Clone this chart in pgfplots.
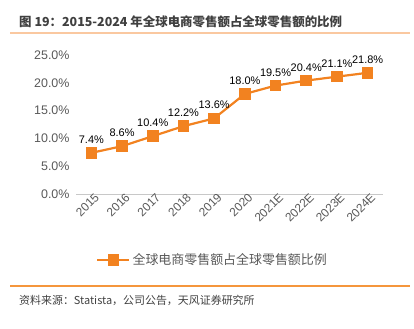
\documentclass[border=0pt]{standalone}
\usepackage{pgfplots}
\pgfplotsset{compat=1.18}
\usepackage{fontspec}
\setmainfont{Liberation Sans}
\newfontfamily\cjk{Noto Sans CJK SC}
\definecolor{lineorange}{RGB}{242,130,32}
\definecolor{ticgray}{RGB}{89,89,89}
\definecolor{titlegray}{RGB}{64,64,64}
\definecolor{titleline}{RGB}{250,200,160}
\definecolor{bottomline}{RGB}{245,150,60}
\definecolor{zerogray}{RGB}{200,200,200}
\begin{document}
\begin{tikzpicture}
\useasboundingbox (0bp,0bp) rectangle (414bp,329bp);
\node[anchor=west, font=\cjk\bfseries\fontsize{12.5}{14}\selectfont, text=titlegray, inner sep=0pt] at (19bp,307.3bp) {图 19：2015-2024 年全球电商零售额占全球零售额的比例};
\draw[titleline, line width=1.2bp] (10bp,296bp) -- (410bp,296bp);
\draw[bottomline, line width=1.2bp] (10bp,43bp) -- (410bp,43bp);
\node[anchor=west, font=\cjk\fontsize{11}{13}\selectfont, text=titlegray, inner sep=0pt] at (19bp,29bp) {资料来源：Statista，公司公告，天风证券研究所};
\begin{axis}[
  at={(76bp,135bp)}, anchor=south west,
  scale only axis, width=307bp, height=139bp,
  xmin=-0.5, xmax=9.5, ymin=0, ymax=25,
  xtick={0,...,9},
  xticklabels={2015,2016,2017,2018,2019,2020,2021E,2022E,2023E,2024E},
  ytick={0,5,10,15,20,25},
  yticklabel={\pgfmathprintnumber[fixed,fixed zerofill,precision=1]{\tick}\%},
  /pgf/number format/assume math mode=true,
  axis x line*=bottom, axis y line*=left,
  x axis line style={draw=zerogray, line width=0.8bp},
  y axis line style={draw=none},
  major tick length=0pt,
  tick label style={text=ticgray, font=\fontsize{12.5}{14}\selectfont},
  xticklabel style={rotate=45, anchor=east, font=\fontsize{12}{14}\selectfont, inner sep=1bp, xshift=4bp, yshift=-5bp},
  yticklabel style={xshift=-3bp},
  nodes near coords={\pgfmathprintnumber[fixed,fixed zerofill,precision=1]{\pgfplotspointmeta}\%},
  every node near coord/.append style={font=\fontsize{11}{13}\selectfont, text=black, yshift=5bp},
  legend style={draw=none, at={(0.445,-0.475)}, anchor=center, font=\cjk\fontsize{13}{15}\selectfont, text=ticgray, inner sep=0pt},
  legend image code/.code={\draw[mark repeat=2,mark phase=2] plot coordinates {(0bp,0bp) (16bp,0bp) (32bp,0bp)};},
  clip=false,
]
\addplot[color=lineorange, line width=2.2bp, mark=square*, mark size=4.7bp, mark options={fill=lineorange}]
  coordinates {(0,7.4) (1,8.6) (2,10.4) (3,12.2) (4,13.6) (5,18.0) (6,19.5) (7,20.4) (8,21.1) (9,21.8)};
\addlegendentry{全球电商零售额占全球零售额比例}
\end{axis}
\end{tikzpicture}
\end{document}
